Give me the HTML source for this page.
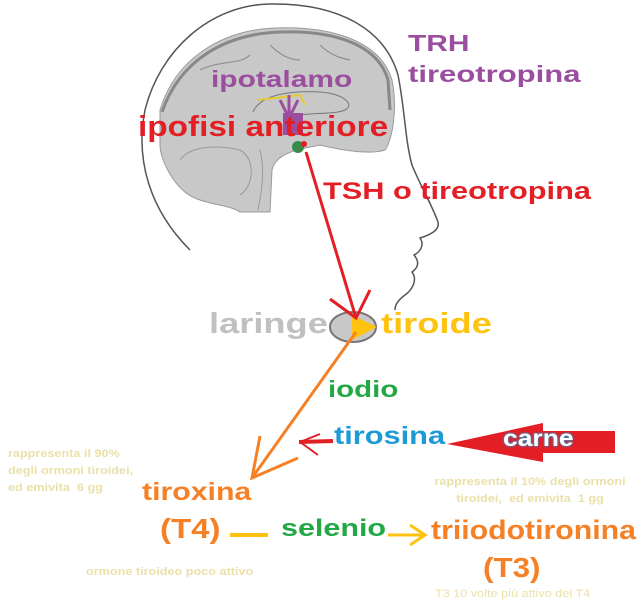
<!DOCTYPE html>
<html><head><meta charset="utf-8"><style>
html,body{margin:0;padding:0;background:#fff;}
body{width:642px;height:611px;position:relative;overflow:hidden;font-family:"Liberation Sans",sans-serif;font-weight:bold;}
.t{position:absolute;white-space:nowrap;line-height:1;transform-origin:0 0;}
.s{position:absolute;white-space:nowrap;font-size:11px;color:#ebe0a8;line-height:17px;transform-origin:0 0;transform:scaleX(1.15);}
</style></head><body>
<svg width="642" height="611" style="position:absolute;left:0;top:0">
<path d="M190,250 C150,210 135,160 145,110 C160,50 210,5 270,4 C340,3 385,30 398,75 C405,110 405,140 412,165 C420,185 432,205 438,222 C440,230 430,235 420,238 C425,245 420,252 414,255 C420,262 418,268 412,272 C418,280 412,290 405,295 C398,300 395,305 395,310" fill="none" stroke="#555" stroke-width="1.5"/>
<path d="M160,110 C175,60 220,30 275,28 C330,26 380,40 392,80 C398,110 392,140 385,150 C370,155 340,150 320,145 L305,148 C295,150 275,155 272,170 L270,212 L240,212 C230,205 210,205 195,198 C175,190 160,160 160,145 Z" fill="#c8c8c8" stroke="#9a9a9a" stroke-width="1"/>
<path d="M162,112 C180,60 225,34 280,32 C335,30 378,45 388,80 L390,110" fill="none" stroke="#888" stroke-width="3"/>
<path d="M253,112 C260,95 290,90 320,92 C345,94 355,105 345,110 C335,115 300,112 285,118" fill="none" stroke="#777" stroke-width="1"/>
<path d="M180,160 C190,145 220,145 240,150 C255,158 255,185 240,195" fill="none" stroke="#999" stroke-width="1"/>
<path d="M260,150 C265,170 262,190 258,210" fill="none" stroke="#999" stroke-width="1"/>
<path d="M200,70 C220,60 240,65 250,55 M270,45 C280,55 290,60 300,60 M320,45 C330,55 340,58 350,60" fill="none" stroke="#888" stroke-width="1"/>
<path d="M258,100 L300,95 L305,105" fill="none" stroke="#e6c832" stroke-width="2"/>
<rect x="283" y="113" width="20" height="22" fill="#9b4ea0"/>
<circle cx="298" cy="147" r="6" fill="#3a8a4a"/>
<circle cx="304" cy="144" r="3" fill="#e02020"/>
<path d="M289,95 L289,118 M280,100 L289,118 L298,100" fill="none" stroke="#9b4ea0" stroke-width="3"/>
<ellipse cx="353" cy="327" rx="23" ry="15" fill="#c8c8c8" stroke="#777" stroke-width="2"/>
<path d="M352,315 L377,327 L352,340 Z" fill="#ffc20e"/>
<path d="M306,152 L356,318 M330,299 L356,318 L370,290" fill="none" stroke="#e31e24" stroke-width="3"/>
<path d="M356,332 L252,478 M260,436 L252,478 L298,458" fill="none" stroke="#f58025" stroke-width="3"/>
<path d="M333,441 L299,442" stroke="#e31e24" stroke-width="4"/>
<path d="M300,442 L320,434 M300,442 L318,455" stroke="#e31e24" stroke-width="2"/>
<path d="M447,444 L543,423 L543,431 L615,431 L615,453 L543,453 L543,462 Z" fill="#e31e24"/>
<path d="M230,535 L268,535" stroke="#ffc20e" stroke-width="4"/>
<path d="M388,535 L425,535 M410,525 L425,535 L410,545" fill="none" stroke="#ffc20e" stroke-width="3"/>
</svg>
<div class="t" style="left:408px;top:32px;font-size:23px;color:#9b4ea0;transform:scaleX(1.3)">TRH</div>
<div class="t" style="left:408px;top:63px;font-size:23px;color:#9b4ea0;transform:scaleX(1.35)">tireotropina</div>
<div class="t" style="left:211px;top:68px;font-size:23px;color:#9b4ea0;transform:scaleX(1.3)">ipotalamo</div>
<div class="t" style="left:138px;top:113px;font-size:29px;color:#e31e24;transform:scaleX(1.15)">ipofisi anteriore</div>
<div class="t" style="left:323px;top:180px;font-size:24px;color:#e31e24;transform:scaleX(1.28)">TSH o tireotropina</div>
<div class="t" style="left:209px;top:310px;font-size:29px;color:#c0c0c0;transform:scaleX(1.25)">laringe</div>
<div class="t" style="left:381px;top:310px;font-size:29px;color:#ffc20e;transform:scaleX(1.25)">tiroide</div>
<div class="t" style="left:328px;top:378px;font-size:23px;color:#22a845;transform:scaleX(1.28)">iodio</div>
<div class="t" style="left:334px;top:424px;font-size:25px;color:#1b9ad6;transform:scaleX(1.23)">tirosina</div>
<div class="t" style="left:503px;top:427px;font-size:23px;color:#fff;text-shadow:0 0 2px #1b9ad6,0 0 2px #1b9ad6;transform:scaleX(1.15)">carne</div>
<div class="s" style="left:8px;top:446px">rappresenta il 90%<br>degli ormoni tiroidei,<br>ed emivita&nbsp; 6 gg</div>
<div class="t" style="left:142px;top:480px;font-size:25px;color:#f58025;transform:scaleX(1.21)">tiroxina</div>
<div class="s" style="left:430px;top:474px;text-align:center;width:174px">rappresenta il 10% degli ormoni<br>tiroidei,&nbsp; ed emivita&nbsp; 1 gg</div>
<div class="t" style="left:160px;top:515px;font-size:28px;color:#f58025;transform:scaleX(1.18)">(T4)</div>
<div class="t" style="left:281px;top:517px;font-size:24px;color:#22a845;transform:scaleX(1.27)">selenio</div>
<div class="t" style="left:431px;top:517px;font-size:27px;color:#f58025;transform:scaleX(1.12)">triiodotironina</div>
<div class="s" style="left:86px;top:564px">ormone tiroideo poco attivo</div>
<div class="t" style="left:483px;top:554px;font-size:28px;color:#f58025;transform:scaleX(1.12)">(T3)</div>
<div class="s" style="left:435px;top:586px;font-weight:normal">T3 10 volte più attivo del T4</div>
</body></html>
